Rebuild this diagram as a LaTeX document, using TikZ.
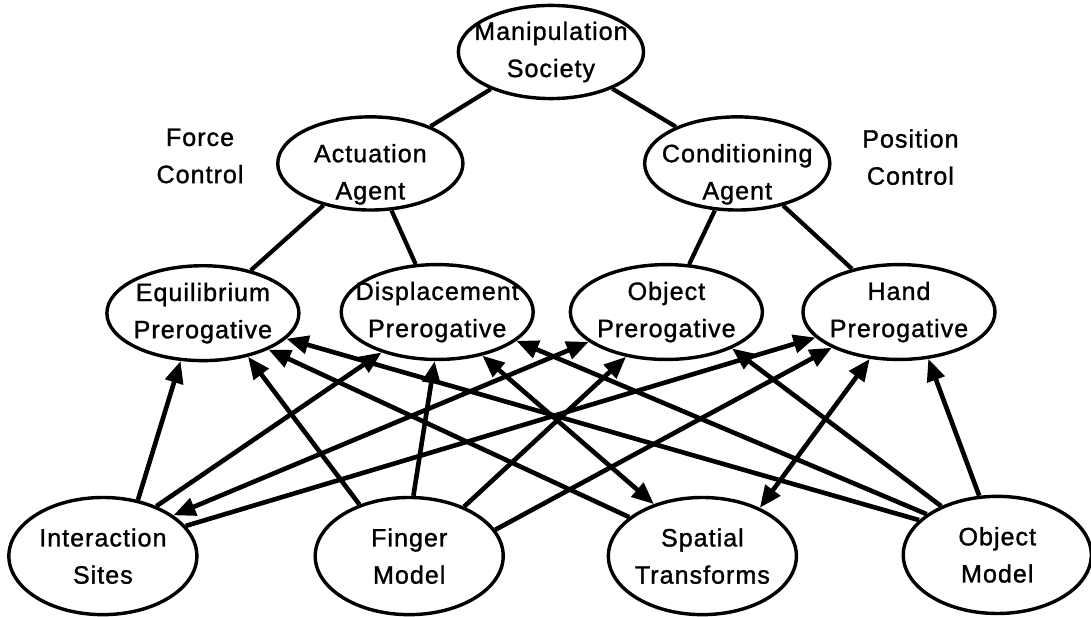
\documentclass[tikz,border=0pt]{standalone}
\usepackage{fontspec}
\setmainfont[LetterSpace=4,FakeBold=1.2]{Liberation Sans}
\usetikzlibrary{arrows.meta,shapes.geometric}

\begin{document}
\begin{tikzpicture}[scale=1, every node/.style={font=\fontsize{12.5}{18.5}\selectfont},
    agent/.style={draw, ellipse, line width=1.7pt, inner xsep=-12pt, inner ysep=-3pt,
        minimum width=3.24cm, minimum height=1.63cm, align=center},
    prer/.style={agent, minimum width=3.36cm, minimum height=1.66cm},
    model/.style={agent, minimum width=3.29cm, minimum height=2.05cm},
    link/.style={line width=2.1pt},
    feed/.style={line width=2.3pt, -{Triangle[length=11pt,width=9pt]}},
    both/.style={line width=2.3pt, {Triangle[length=11pt,width=9pt]}-{Triangle[length=11pt,width=9pt]}}]
        \fill[white] (0,0) rectangle (19.09,10.78);
        \useasboundingbox (0,0) rectangle (19.09,10.78);

        % Society and agents
        \node[agent] (manip) at (9.64,9.87) {Manipulation\\Society};
        \node[agent] (actu) at (6.48,7.92) {};
        \node[agent] (cond) at (12.90,7.92) {};
        \node[align=center] (actutext) at (6.48,7.73) {Actuation\\Agent};
        \node[align=center] (condtext) at (12.90,7.73) {Conditioning\\Agent};
        \node[align=center] (force) at (3.50,8.05) {Force\\Control};
        \node[align=center] (position) at (15.93,8.03) {Position\\Control};

        % Prerogatives
        \node[prer] (equi) at (3.55,5.30) {Equilibrium\\Prerogative};
        \node[prer] (disp) at (7.65,5.32) {Displacement\\Prerogative};
        \node[prer] (objp) at (11.66,5.32) {Object\\Prerogative};
        \node[prer] (hand) at (15.73,5.32) {Hand\\Prerogative};

        % Models
        \node[model] (inter) at (1.80,1.05) {Interaction\\Sites};
        \node[model] (finger) at (7.16,1.05) {Finger\\Model};
        \node[model] (spatial) at (12.29,1.05) {Spatial\\Transforms};
        \node[model] (objm) at (17.45,1.07) {Object\\Model};

        % Tree
        \draw[link] (manip) -- (actu);
        \draw[link] (manip) -- (cond);
        \draw[link] (actu) -- (equi);
        \draw[link] (actu) -- (disp);
        \draw[link] (cond) -- (objp);
        \draw[link] (cond) -- (hand);

        % Interaction Sites
        \draw[feed] (inter.58) -- (equi.245);
        \draw[feed] (inter.43) -- (disp.216);
        \draw[both] (inter.30) -- (objp.201);
        \draw[feed] (inter.20) -- (hand.197);

        % Finger Model
        \draw[feed] (finger.134) -- (equi.-44);
        \draw[feed] (finger.86) -- (disp.267);
        \draw[feed] (finger.42) -- (objp.228);
        \draw[feed] (finger.17) -- (hand.208);

        % Spatial Transforms
        \draw[feed] (spatial.152) -- (equi.-29);
        \draw[both] (spatial.133) -- (disp.-44);
        \draw[both] (spatial.40) -- (hand.238);

        % Object Model
        \draw[feed] (objm.156) -- (equi.-17);
        \draw[feed] (objm.150) -- (disp.-20);
        \draw[feed] (objm.139) -- (objp.-29);
        \draw[feed] (objm.107) -- (hand.-58);
    \end{tikzpicture}
\end{document}
